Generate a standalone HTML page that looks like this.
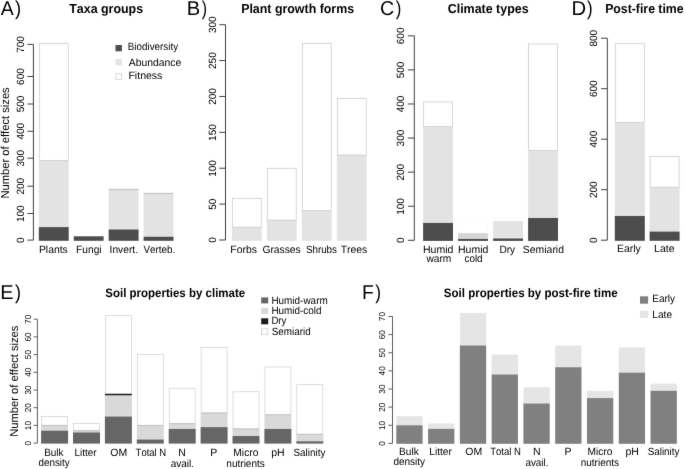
<!DOCTYPE html>
<html><head><meta charset="utf-8"><style>
html,body{margin:0;padding:0;background:#fff;width:685px;height:469px;overflow:hidden}
svg{display:block;will-change:transform}
text{font-family:"Liberation Sans", sans-serif;font-kerning:none;text-rendering:geometricPrecision}
</style></head><body>
<svg width="685" height="469" viewBox="0 0 685 469">
<defs><filter id="bl" x="0" y="0" width="685" height="469" filterUnits="userSpaceOnUse" color-interpolation-filters="sRGB"><feConvolveMatrix order="3" kernelMatrix="1 12 1 12 148 12 1 12 1" divisor="200" edgeMode="duplicate"/></filter></defs>
<g filter="url(#bl)">
<rect width="685" height="469" fill="#fff"/>
<text x="0.66" y="14.60" font-size="20"><tspan textLength="12.98" lengthAdjust="spacingAndGlyphs">A</tspan><tspan x="14.89" textLength="6.15" lengthAdjust="spacingAndGlyphs">)</tspan></text>
<text x="69.26" y="13.00" font-size="13" font-weight="bold" textLength="73.85" lengthAdjust="spacingAndGlyphs">Taxa groups</text>
<line x1="33.40" y1="44.40" x2="33.40" y2="240.10" stroke="#404040" stroke-width="1"/>
<line x1="27.40" y1="240.10" x2="33.40" y2="240.10" stroke="#404040" stroke-width="1"/>
<text x="23.90" y="242.88" font-size="10.5" transform="rotate(-90 23.90 242.88)" textLength="5.56" lengthAdjust="spacingAndGlyphs">0</text>
<line x1="27.40" y1="213.50" x2="33.40" y2="213.50" stroke="#404040" stroke-width="1"/>
<text x="23.90" y="222.03" font-size="10.5" transform="rotate(-90 23.90 222.03)" textLength="16.68" lengthAdjust="spacingAndGlyphs">100</text>
<line x1="27.40" y1="186.20" x2="33.40" y2="186.20" stroke="#404040" stroke-width="1"/>
<text x="23.90" y="194.60" font-size="10.5" transform="rotate(-90 23.90 194.60)" textLength="16.68" lengthAdjust="spacingAndGlyphs">200</text>
<line x1="27.40" y1="158.20" x2="33.40" y2="158.20" stroke="#404040" stroke-width="1"/>
<text x="23.90" y="166.54" font-size="10.5" transform="rotate(-90 23.90 166.54)" textLength="16.68" lengthAdjust="spacingAndGlyphs">300</text>
<line x1="27.40" y1="131.30" x2="33.40" y2="131.30" stroke="#404040" stroke-width="1"/>
<text x="23.90" y="139.56" font-size="10.5" transform="rotate(-90 23.90 139.56)" textLength="16.68" lengthAdjust="spacingAndGlyphs">400</text>
<line x1="27.40" y1="104.00" x2="33.40" y2="104.00" stroke="#404040" stroke-width="1"/>
<text x="23.90" y="112.35" font-size="10.5" transform="rotate(-90 23.90 112.35)" textLength="16.68" lengthAdjust="spacingAndGlyphs">500</text>
<line x1="27.40" y1="76.50" x2="33.40" y2="76.50" stroke="#404040" stroke-width="1"/>
<text x="23.90" y="84.90" font-size="10.5" transform="rotate(-90 23.90 84.90)" textLength="16.68" lengthAdjust="spacingAndGlyphs">600</text>
<line x1="27.40" y1="44.40" x2="33.40" y2="44.40" stroke="#404040" stroke-width="1"/>
<text x="23.90" y="52.80" font-size="10.5" transform="rotate(-90 23.90 52.80)" textLength="16.68" lengthAdjust="spacingAndGlyphs">700</text>
<text x="8.80" y="198.52" font-size="11.5" transform="rotate(-90 8.80 198.52)" textLength="111.22" lengthAdjust="spacingAndGlyphs">Number of effect sizes</text>
<rect x="38.80" y="160.40" width="29.90" height="67.00" fill="#e3e3e3"/>
<rect x="38.80" y="227.10" width="29.90" height="13.70" fill="#4d4d4d"/>
<rect x="39.30" y="43.70" width="28.90" height="116.70" fill="#fff" stroke="#c6c6c6" stroke-width="0.7"/>
<text x="38.95" y="252.50" font-size="10.5" textLength="28.83" lengthAdjust="spacingAndGlyphs">Plants</text>
<rect x="73.73" y="236.30" width="29.90" height="0.30" fill="#e3e3e3"/>
<rect x="73.73" y="236.30" width="29.90" height="4.50" fill="#4d4d4d"/>
<text x="76.06" y="252.50" font-size="10.5" textLength="25.52" lengthAdjust="spacingAndGlyphs">Fungi</text>
<rect x="108.66" y="190.30" width="29.90" height="39.50" fill="#e3e3e3"/>
<rect x="108.66" y="229.50" width="29.90" height="11.30" fill="#4d4d4d"/>
<rect x="108.66" y="188.80" width="29.90" height="1.60" fill="#c9c9c9"/>
<text x="109.55" y="252.50" font-size="10.5" textLength="28.48" lengthAdjust="spacingAndGlyphs">Invert.</text>
<rect x="143.59" y="194.30" width="29.90" height="42.80" fill="#e3e3e3"/>
<rect x="143.59" y="236.80" width="29.90" height="4.00" fill="#4d4d4d"/>
<rect x="143.59" y="192.80" width="29.90" height="1.60" fill="#c9c9c9"/>
<text x="143.56" y="252.50" font-size="10.5" textLength="31.74" lengthAdjust="spacingAndGlyphs">Verteb.</text>
<rect x="115.50" y="45.00" width="6.40" height="6.30" fill="#4d4d4d"/>
<text x="127.79" y="50.40" font-size="10.5" textLength="50.33" lengthAdjust="spacingAndGlyphs">Biodiversity</text>
<rect x="115.50" y="59.15" width="6.40" height="6.30" fill="#e3e3e3"/>
<text x="128.78" y="65.50" font-size="10.5" textLength="52.58" lengthAdjust="spacingAndGlyphs">Abundance</text>
<rect x="115.90" y="73.70" width="5.60" height="5.60" fill="#fff" stroke="#d2d2d2" stroke-width="0.8"/>
<text x="128.44" y="79.40" font-size="10.5" textLength="33.94" lengthAdjust="spacingAndGlyphs">Fitness</text>
<text x="186.85" y="14.60" font-size="20"><tspan textLength="13.41" lengthAdjust="spacingAndGlyphs">B</tspan><tspan x="201.71" textLength="5.28" lengthAdjust="spacingAndGlyphs">)</tspan></text>
<text x="241.17" y="13.00" font-size="13" font-weight="bold" textLength="112.94" lengthAdjust="spacingAndGlyphs">Plant growth forms</text>
<line x1="225.50" y1="24.69" x2="225.50" y2="240.00" stroke="#404040" stroke-width="1"/>
<line x1="219.30" y1="240.00" x2="225.50" y2="240.00" stroke="#404040" stroke-width="1"/>
<text x="215.60" y="242.78" font-size="10.5" transform="rotate(-90 215.60 242.78)" textLength="5.56" lengthAdjust="spacingAndGlyphs">0</text>
<line x1="219.30" y1="204.12" x2="225.50" y2="204.12" stroke="#404040" stroke-width="1"/>
<text x="215.60" y="209.68" font-size="10.5" transform="rotate(-90 215.60 209.68)" textLength="11.12" lengthAdjust="spacingAndGlyphs">50</text>
<line x1="219.30" y1="168.23" x2="225.50" y2="168.23" stroke="#404040" stroke-width="1"/>
<text x="215.60" y="176.76" font-size="10.5" transform="rotate(-90 215.60 176.76)" textLength="16.68" lengthAdjust="spacingAndGlyphs">100</text>
<line x1="219.30" y1="132.34" x2="225.50" y2="132.34" stroke="#404040" stroke-width="1"/>
<text x="215.60" y="140.87" font-size="10.5" transform="rotate(-90 215.60 140.87)" textLength="16.68" lengthAdjust="spacingAndGlyphs">150</text>
<line x1="219.30" y1="96.46" x2="225.50" y2="96.46" stroke="#404040" stroke-width="1"/>
<text x="215.60" y="104.86" font-size="10.5" transform="rotate(-90 215.60 104.86)" textLength="16.68" lengthAdjust="spacingAndGlyphs">200</text>
<line x1="219.30" y1="60.57" x2="225.50" y2="60.57" stroke="#404040" stroke-width="1"/>
<text x="215.60" y="68.97" font-size="10.5" transform="rotate(-90 215.60 68.97)" textLength="16.68" lengthAdjust="spacingAndGlyphs">250</text>
<line x1="219.30" y1="24.69" x2="225.50" y2="24.69" stroke="#404040" stroke-width="1"/>
<text x="215.60" y="33.03" font-size="10.5" transform="rotate(-90 215.60 33.03)" textLength="16.68" lengthAdjust="spacingAndGlyphs">300</text>
<rect x="231.80" y="227.08" width="29.90" height="13.72" fill="#e3e3e3"/>
<rect x="232.30" y="198.37" width="28.90" height="28.71" fill="#fff" stroke="#c6c6c6" stroke-width="0.7"/>
<text x="230.35" y="252.60" font-size="10.5" textLength="26.63" lengthAdjust="spacingAndGlyphs">Forbs</text>
<rect x="266.80" y="220.05" width="29.90" height="20.75" fill="#e3e3e3"/>
<rect x="267.30" y="168.23" width="28.90" height="51.82" fill="#fff" stroke="#c6c6c6" stroke-width="0.7"/>
<text x="262.38" y="252.60" font-size="10.5" textLength="38.39" lengthAdjust="spacingAndGlyphs">Grasses</text>
<rect x="301.80" y="210.57" width="29.90" height="30.23" fill="#e3e3e3"/>
<rect x="302.30" y="43.49" width="28.90" height="167.08" fill="#fff" stroke="#c6c6c6" stroke-width="0.7"/>
<text x="305.96" y="252.60" font-size="10.5" textLength="31.00" lengthAdjust="spacingAndGlyphs">Shrubs</text>
<rect x="336.80" y="155.02" width="29.90" height="85.78" fill="#e3e3e3"/>
<rect x="337.30" y="98.61" width="28.90" height="56.41" fill="#fff" stroke="#c6c6c6" stroke-width="0.7"/>
<text x="340.67" y="252.60" font-size="10.5" textLength="26.61" lengthAdjust="spacingAndGlyphs">Trees</text>
<text x="380.10" y="14.60" font-size="20"><tspan textLength="14.25" lengthAdjust="spacingAndGlyphs">C</tspan><tspan x="395.80" textLength="5.65" lengthAdjust="spacingAndGlyphs">)</tspan></text>
<text x="447.69" y="12.90" font-size="13" font-weight="bold" textLength="80.92" lengthAdjust="spacingAndGlyphs">Climate types</text>
<line x1="414.30" y1="35.82" x2="414.30" y2="240.30" stroke="#404040" stroke-width="1"/>
<line x1="407.90" y1="240.30" x2="414.30" y2="240.30" stroke="#404040" stroke-width="1"/>
<text x="404.20" y="243.08" font-size="10.5" transform="rotate(-90 404.20 243.08)" textLength="5.56" lengthAdjust="spacingAndGlyphs">0</text>
<line x1="407.90" y1="206.22" x2="414.30" y2="206.22" stroke="#404040" stroke-width="1"/>
<text x="404.20" y="214.75" font-size="10.5" transform="rotate(-90 404.20 214.75)" textLength="16.68" lengthAdjust="spacingAndGlyphs">100</text>
<line x1="407.90" y1="172.14" x2="414.30" y2="172.14" stroke="#404040" stroke-width="1"/>
<text x="404.20" y="180.54" font-size="10.5" transform="rotate(-90 404.20 180.54)" textLength="16.68" lengthAdjust="spacingAndGlyphs">200</text>
<line x1="407.90" y1="138.06" x2="414.30" y2="138.06" stroke="#404040" stroke-width="1"/>
<text x="404.20" y="146.40" font-size="10.5" transform="rotate(-90 404.20 146.40)" textLength="16.68" lengthAdjust="spacingAndGlyphs">300</text>
<line x1="407.90" y1="103.98" x2="414.30" y2="103.98" stroke="#404040" stroke-width="1"/>
<text x="404.20" y="112.24" font-size="10.5" transform="rotate(-90 404.20 112.24)" textLength="16.68" lengthAdjust="spacingAndGlyphs">400</text>
<line x1="407.90" y1="69.90" x2="414.30" y2="69.90" stroke="#404040" stroke-width="1"/>
<text x="404.20" y="78.25" font-size="10.5" transform="rotate(-90 404.20 78.25)" textLength="16.68" lengthAdjust="spacingAndGlyphs">500</text>
<line x1="407.90" y1="35.82" x2="414.30" y2="35.82" stroke="#404040" stroke-width="1"/>
<text x="404.20" y="44.22" font-size="10.5" transform="rotate(-90 404.20 44.22)" textLength="16.68" lengthAdjust="spacingAndGlyphs">600</text>
<rect x="423.10" y="126.61" width="29.90" height="96.61" fill="#e3e3e3"/>
<rect x="423.10" y="222.92" width="29.90" height="17.98" fill="#4d4d4d"/>
<rect x="423.60" y="101.94" width="28.90" height="24.67" fill="#fff" stroke="#c6c6c6" stroke-width="0.7"/>
<text x="422.94" y="252.60" font-size="10.5" textLength="30.44" lengthAdjust="spacingAndGlyphs">Humid</text>
<text x="426.41" y="262.10" font-size="10.5" textLength="24.96" lengthAdjust="spacingAndGlyphs">warm</text>
<rect x="458.10" y="232.80" width="29.90" height="6.43" fill="#d6d6d6"/>
<rect x="458.10" y="238.94" width="29.90" height="1.96" fill="#4d4d4d"/>
<rect x="458.60" y="219.51" width="28.90" height="13.29" fill="#fff" stroke="#fbfbfb" stroke-width="0.7"/>
<text x="458.04" y="252.60" font-size="10.5" textLength="30.34" lengthAdjust="spacingAndGlyphs">Humid</text>
<text x="464.48" y="262.10" font-size="10.5" textLength="18.16" lengthAdjust="spacingAndGlyphs">cold</text>
<rect x="493.10" y="221.04" width="29.90" height="17.51" fill="#e3e3e3"/>
<rect x="493.10" y="238.26" width="29.90" height="2.64" fill="#4d4d4d"/>
<rect x="493.10" y="237.66" width="29.90" height="0.60" fill="#f4f4f4"/>
<text x="499.47" y="252.60" font-size="10.5" textLength="15.64" lengthAdjust="spacingAndGlyphs">Dry</text>
<rect x="528.10" y="150.33" width="29.90" height="67.95" fill="#e3e3e3"/>
<rect x="528.10" y="217.98" width="29.90" height="22.92" fill="#4d4d4d"/>
<rect x="528.60" y="44.00" width="28.90" height="106.33" fill="#fff" stroke="#c6c6c6" stroke-width="0.7"/>
<text x="522.83" y="252.60" font-size="10.5" textLength="41.15" lengthAdjust="spacingAndGlyphs">Semiarid</text>
<text x="571.44" y="14.80" font-size="20"><tspan textLength="14.63" lengthAdjust="spacingAndGlyphs">D</tspan><tspan x="587.10" textLength="5.65" lengthAdjust="spacingAndGlyphs">)</tspan></text>
<text x="605.18" y="13.20" font-size="13" font-weight="bold" textLength="78.44" lengthAdjust="spacingAndGlyphs">Post-fire time</text>
<line x1="607.30" y1="38.20" x2="607.30" y2="240.20" stroke="#404040" stroke-width="1"/>
<line x1="601.00" y1="240.20" x2="607.30" y2="240.20" stroke="#404040" stroke-width="1"/>
<text x="597.20" y="242.98" font-size="10.5" transform="rotate(-90 597.20 242.98)" textLength="5.56" lengthAdjust="spacingAndGlyphs">0</text>
<line x1="601.00" y1="189.70" x2="607.30" y2="189.70" stroke="#404040" stroke-width="1"/>
<text x="597.20" y="198.10" font-size="10.5" transform="rotate(-90 597.20 198.10)" textLength="16.68" lengthAdjust="spacingAndGlyphs">200</text>
<line x1="601.00" y1="139.20" x2="607.30" y2="139.20" stroke="#404040" stroke-width="1"/>
<text x="597.20" y="147.46" font-size="10.5" transform="rotate(-90 597.20 147.46)" textLength="16.68" lengthAdjust="spacingAndGlyphs">400</text>
<line x1="601.00" y1="88.70" x2="607.30" y2="88.70" stroke="#404040" stroke-width="1"/>
<text x="597.20" y="97.10" font-size="10.5" transform="rotate(-90 597.20 97.10)" textLength="16.68" lengthAdjust="spacingAndGlyphs">600</text>
<line x1="601.00" y1="38.20" x2="607.30" y2="38.20" stroke="#404040" stroke-width="1"/>
<text x="597.20" y="46.56" font-size="10.5" transform="rotate(-90 597.20 46.56)" textLength="16.68" lengthAdjust="spacingAndGlyphs">800</text>
<rect x="614.80" y="122.28" width="30.00" height="93.98" fill="#e3e3e3"/>
<rect x="614.80" y="215.96" width="30.00" height="24.84" fill="#4d4d4d"/>
<rect x="615.30" y="43.75" width="29.00" height="78.53" fill="#fff" stroke="#c6c6c6" stroke-width="0.7"/>
<text x="617.04" y="251.90" font-size="10.5" textLength="23.78" lengthAdjust="spacingAndGlyphs">Early</text>
<rect x="649.60" y="187.17" width="30.00" height="44.74" fill="#e3e3e3"/>
<rect x="649.60" y="231.61" width="30.00" height="9.19" fill="#4d4d4d"/>
<rect x="650.10" y="156.37" width="29.00" height="30.80" fill="#fff" stroke="#c6c6c6" stroke-width="0.7"/>
<text x="654.03" y="251.90" font-size="10.5" textLength="20.53" lengthAdjust="spacingAndGlyphs">Late</text>
<text x="0.37" y="298.60" font-size="20"><tspan textLength="13.23" lengthAdjust="spacingAndGlyphs">E</tspan><tspan x="14.89" textLength="6.03" lengthAdjust="spacingAndGlyphs">)</tspan></text>
<text x="105.27" y="296.60" font-size="12.3" font-weight="bold" textLength="139.92" lengthAdjust="spacingAndGlyphs">Soil properties by climate</text>
<line x1="37.40" y1="319.20" x2="37.40" y2="443.10" stroke="#5e5e5e" stroke-width="1"/>
<line x1="33.60" y1="443.10" x2="37.40" y2="443.10" stroke="#5e5e5e" stroke-width="1"/>
<text x="31.40" y="445.41" font-size="8.715000000000002" transform="rotate(-90 31.40 445.41)" textLength="4.62" lengthAdjust="spacingAndGlyphs">0</text>
<line x1="33.60" y1="425.40" x2="37.40" y2="425.40" stroke="#5e5e5e" stroke-width="1"/>
<text x="31.40" y="430.17" font-size="8.715000000000002" transform="rotate(-90 31.40 430.17)" textLength="9.23" lengthAdjust="spacingAndGlyphs">10</text>
<line x1="33.60" y1="407.70" x2="37.40" y2="407.70" stroke="#5e5e5e" stroke-width="1"/>
<text x="31.40" y="412.36" font-size="8.715000000000002" transform="rotate(-90 31.40 412.36)" textLength="9.23" lengthAdjust="spacingAndGlyphs">20</text>
<line x1="33.60" y1="390.00" x2="37.40" y2="390.00" stroke="#5e5e5e" stroke-width="1"/>
<text x="31.40" y="394.61" font-size="8.715000000000002" transform="rotate(-90 31.40 394.61)" textLength="9.23" lengthAdjust="spacingAndGlyphs">30</text>
<line x1="33.60" y1="372.30" x2="37.40" y2="372.30" stroke="#5e5e5e" stroke-width="1"/>
<text x="31.40" y="376.85" font-size="8.715000000000002" transform="rotate(-90 31.40 376.85)" textLength="9.23" lengthAdjust="spacingAndGlyphs">40</text>
<line x1="33.60" y1="354.60" x2="37.40" y2="354.60" stroke="#5e5e5e" stroke-width="1"/>
<text x="31.40" y="359.22" font-size="8.715000000000002" transform="rotate(-90 31.40 359.22)" textLength="9.23" lengthAdjust="spacingAndGlyphs">50</text>
<line x1="33.60" y1="336.90" x2="37.40" y2="336.90" stroke="#5e5e5e" stroke-width="1"/>
<text x="31.40" y="341.56" font-size="8.715000000000002" transform="rotate(-90 31.40 341.56)" textLength="9.23" lengthAdjust="spacingAndGlyphs">60</text>
<line x1="33.60" y1="319.20" x2="37.40" y2="319.20" stroke="#5e5e5e" stroke-width="1"/>
<text x="31.40" y="323.87" font-size="8.715000000000002" transform="rotate(-90 31.40 323.87)" textLength="9.23" lengthAdjust="spacingAndGlyphs">70</text>
<text x="18.00" y="436.82" font-size="11.5" transform="rotate(-90 18.00 436.82)" textLength="111.22" lengthAdjust="spacingAndGlyphs">Number of effect sizes</text>
<rect x="41.10" y="425.40" width="27.00" height="5.61" fill="#d9d9d9"/>
<rect x="41.10" y="430.71" width="27.00" height="12.89" fill="#666666"/>
<rect x="41.60" y="416.55" width="26.00" height="8.85" fill="#fff" stroke="#cfcfcf" stroke-width="0.7"/>
<line x1="41.60" y1="425.40" x2="67.60" y2="425.40" stroke="#bdbdbd" stroke-width="0.8"/>
<text x="44.18" y="456.00" font-size="10.5" textLength="19.40" lengthAdjust="spacingAndGlyphs">Bulk</text>
<text x="38.49" y="466.00" font-size="10.5" textLength="31.23" lengthAdjust="spacingAndGlyphs">density</text>
<rect x="73.00" y="430.71" width="27.00" height="2.07" fill="#d9d9d9"/>
<rect x="73.00" y="432.48" width="27.00" height="11.12" fill="#666666"/>
<rect x="73.50" y="423.63" width="26.00" height="7.08" fill="#fff" stroke="#cfcfcf" stroke-width="0.7"/>
<line x1="73.50" y1="430.71" x2="99.50" y2="430.71" stroke="#bdbdbd" stroke-width="0.8"/>
<text x="74.49" y="456.00" font-size="10.5" textLength="21.97" lengthAdjust="spacingAndGlyphs">Litter</text>
<rect x="104.90" y="395.31" width="27.00" height="21.54" fill="#d9d9d9"/>
<rect x="104.90" y="393.54" width="27.00" height="1.77" fill="#1c1c1c"/>
<rect x="104.90" y="416.55" width="27.00" height="27.05" fill="#666666"/>
<rect x="105.40" y="315.66" width="26.00" height="77.88" fill="#fff" stroke="#cfcfcf" stroke-width="0.7"/>
<line x1="105.40" y1="393.54" x2="131.40" y2="393.54" stroke="#bdbdbd" stroke-width="0.8"/>
<text x="110.33" y="456.00" font-size="10.5" textLength="16.91" lengthAdjust="spacingAndGlyphs">OM</text>
<rect x="136.80" y="425.40" width="27.00" height="14.46" fill="#d9d9d9"/>
<rect x="136.80" y="439.56" width="27.00" height="4.04" fill="#666666"/>
<rect x="137.30" y="354.60" width="26.00" height="70.80" fill="#fff" stroke="#cfcfcf" stroke-width="0.7"/>
<line x1="137.30" y1="425.40" x2="163.30" y2="425.40" stroke="#bdbdbd" stroke-width="0.8"/>
<text x="135.59" y="456.00" font-size="10.5" textLength="30.59" lengthAdjust="spacingAndGlyphs">Total N</text>
<rect x="168.70" y="423.63" width="27.00" height="5.61" fill="#d9d9d9"/>
<rect x="168.70" y="428.94" width="27.00" height="14.66" fill="#666666"/>
<rect x="169.20" y="388.23" width="26.00" height="35.40" fill="#fff" stroke="#cfcfcf" stroke-width="0.7"/>
<line x1="169.20" y1="423.63" x2="195.20" y2="423.63" stroke="#bdbdbd" stroke-width="0.8"/>
<text x="178.31" y="456.00" font-size="10.5" textLength="7.58" lengthAdjust="spacingAndGlyphs">N</text>
<text x="170.68" y="467.00" font-size="10.5" textLength="23.34" lengthAdjust="spacingAndGlyphs">avail.</text>
<rect x="200.60" y="413.01" width="27.00" height="14.46" fill="#d9d9d9"/>
<rect x="200.60" y="427.17" width="27.00" height="16.43" fill="#666666"/>
<rect x="201.10" y="347.52" width="26.00" height="65.49" fill="#fff" stroke="#cfcfcf" stroke-width="0.7"/>
<line x1="201.10" y1="413.01" x2="227.10" y2="413.01" stroke="#bdbdbd" stroke-width="0.8"/>
<text x="210.14" y="456.00" font-size="10.5" textLength="7.00" lengthAdjust="spacingAndGlyphs">P</text>
<rect x="232.50" y="428.94" width="27.00" height="7.38" fill="#d9d9d9"/>
<rect x="232.50" y="436.02" width="27.00" height="7.58" fill="#666666"/>
<rect x="233.00" y="391.77" width="26.00" height="37.17" fill="#fff" stroke="#cfcfcf" stroke-width="0.7"/>
<line x1="233.00" y1="428.94" x2="259.00" y2="428.94" stroke="#bdbdbd" stroke-width="0.8"/>
<text x="233.36" y="456.00" font-size="10.5" textLength="24.97" lengthAdjust="spacingAndGlyphs">Micro</text>
<text x="226.33" y="467.00" font-size="10.5" textLength="38.53" lengthAdjust="spacingAndGlyphs">nutrients</text>
<rect x="264.40" y="414.78" width="27.00" height="14.46" fill="#d9d9d9"/>
<rect x="264.40" y="428.94" width="27.00" height="14.66" fill="#666666"/>
<rect x="264.90" y="366.99" width="26.00" height="47.79" fill="#fff" stroke="#cfcfcf" stroke-width="0.7"/>
<line x1="264.90" y1="414.78" x2="290.90" y2="414.78" stroke="#bdbdbd" stroke-width="0.8"/>
<text x="271.18" y="456.00" font-size="10.5" textLength="13.42" lengthAdjust="spacingAndGlyphs">pH</text>
<rect x="296.30" y="434.25" width="27.00" height="7.38" fill="#d9d9d9"/>
<rect x="296.30" y="441.33" width="27.00" height="2.27" fill="#666666"/>
<rect x="296.80" y="384.69" width="26.00" height="49.56" fill="#fff" stroke="#cfcfcf" stroke-width="0.7"/>
<line x1="296.80" y1="434.25" x2="322.80" y2="434.25" stroke="#bdbdbd" stroke-width="0.8"/>
<text x="293.55" y="456.00" font-size="10.5" textLength="31.77" lengthAdjust="spacingAndGlyphs">Salinity</text>
<rect x="261.20" y="297.40" width="7.00" height="6.00" fill="#666666"/>
<text x="271.38" y="303.50" font-size="10.5" textLength="56.37" lengthAdjust="spacingAndGlyphs">Humid-warm</text>
<rect x="261.20" y="307.85" width="7.00" height="6.00" fill="#d9d9d9"/>
<text x="271.39" y="313.95" font-size="10.5" textLength="50.15" lengthAdjust="spacingAndGlyphs">Humid-cold</text>
<rect x="261.20" y="318.30" width="7.00" height="6.00" fill="#1c1c1c"/>
<text x="271.41" y="324.40" font-size="10.5" textLength="15.01" lengthAdjust="spacingAndGlyphs">Dry</text>
<rect x="261.60" y="328.85" width="6.20" height="5.80" fill="#fff" stroke="#cfcfcf" stroke-width="0.8"/>
<text x="271.75" y="334.85" font-size="10.5" textLength="38.88" lengthAdjust="spacingAndGlyphs">Semiarid</text>
<text x="361.92" y="298.50" font-size="20"><tspan textLength="11.75" lengthAdjust="spacingAndGlyphs">F</tspan><tspan x="375.20" textLength="5.78" lengthAdjust="spacingAndGlyphs">)</tspan></text>
<text x="443.77" y="296.60" font-size="12.3" font-weight="bold" textLength="173.83" lengthAdjust="spacingAndGlyphs">Soil properties by post-fire time</text>
<line x1="392.50" y1="316.49" x2="392.50" y2="443.40" stroke="#5e5e5e" stroke-width="1"/>
<line x1="388.40" y1="443.40" x2="392.50" y2="443.40" stroke="#5e5e5e" stroke-width="1"/>
<text x="385.20" y="445.71" font-size="8.715000000000002" transform="rotate(-90 385.20 445.71)" textLength="4.62" lengthAdjust="spacingAndGlyphs">0</text>
<line x1="388.40" y1="425.27" x2="392.50" y2="425.27" stroke="#5e5e5e" stroke-width="1"/>
<text x="385.20" y="430.04" font-size="8.715000000000002" transform="rotate(-90 385.20 430.04)" textLength="9.23" lengthAdjust="spacingAndGlyphs">10</text>
<line x1="388.40" y1="407.14" x2="392.50" y2="407.14" stroke="#5e5e5e" stroke-width="1"/>
<text x="385.20" y="411.80" font-size="8.715000000000002" transform="rotate(-90 385.20 411.80)" textLength="9.23" lengthAdjust="spacingAndGlyphs">20</text>
<line x1="388.40" y1="389.01" x2="392.50" y2="389.01" stroke="#5e5e5e" stroke-width="1"/>
<text x="385.20" y="393.62" font-size="8.715000000000002" transform="rotate(-90 385.20 393.62)" textLength="9.23" lengthAdjust="spacingAndGlyphs">30</text>
<line x1="388.40" y1="370.88" x2="392.50" y2="370.88" stroke="#5e5e5e" stroke-width="1"/>
<text x="385.20" y="375.43" font-size="8.715000000000002" transform="rotate(-90 385.20 375.43)" textLength="9.23" lengthAdjust="spacingAndGlyphs">40</text>
<line x1="388.40" y1="352.75" x2="392.50" y2="352.75" stroke="#5e5e5e" stroke-width="1"/>
<text x="385.20" y="357.37" font-size="8.715000000000002" transform="rotate(-90 385.20 357.37)" textLength="9.23" lengthAdjust="spacingAndGlyphs">50</text>
<line x1="388.40" y1="334.62" x2="392.50" y2="334.62" stroke="#5e5e5e" stroke-width="1"/>
<text x="385.20" y="339.28" font-size="8.715000000000002" transform="rotate(-90 385.20 339.28)" textLength="9.23" lengthAdjust="spacingAndGlyphs">60</text>
<line x1="388.40" y1="316.49" x2="392.50" y2="316.49" stroke="#5e5e5e" stroke-width="1"/>
<text x="385.20" y="321.16" font-size="8.715000000000002" transform="rotate(-90 385.20 321.16)" textLength="9.23" lengthAdjust="spacingAndGlyphs">70</text>
<rect x="396.30" y="416.20" width="26.30" height="9.37" fill="#e5e5e5"/>
<rect x="396.30" y="425.27" width="26.30" height="18.53" fill="#808080"/>
<text x="399.07" y="455.00" font-size="10.5" textLength="19.72" lengthAdjust="spacingAndGlyphs">Bulk</text>
<text x="393.38" y="465.00" font-size="10.5" textLength="31.74" lengthAdjust="spacingAndGlyphs">density</text>
<rect x="428.08" y="423.46" width="26.30" height="5.74" fill="#e5e5e5"/>
<rect x="428.08" y="428.90" width="26.30" height="14.90" fill="#808080"/>
<text x="429.37" y="455.00" font-size="10.5" textLength="22.50" lengthAdjust="spacingAndGlyphs">Litter</text>
<rect x="459.86" y="312.86" width="26.30" height="32.93" fill="#e5e5e5"/>
<rect x="459.86" y="345.50" width="26.30" height="98.30" fill="#808080"/>
<text x="465.23" y="455.00" font-size="10.5" textLength="16.91" lengthAdjust="spacingAndGlyphs">OM</text>
<rect x="491.64" y="354.56" width="26.30" height="20.24" fill="#e5e5e5"/>
<rect x="491.64" y="374.51" width="26.30" height="69.29" fill="#808080"/>
<text x="490.19" y="455.00" font-size="10.5" textLength="30.69" lengthAdjust="spacingAndGlyphs">Total N</text>
<rect x="523.42" y="387.20" width="26.30" height="16.62" fill="#e5e5e5"/>
<rect x="523.42" y="403.51" width="26.30" height="40.29" fill="#808080"/>
<text x="532.91" y="455.00" font-size="10.5" textLength="7.58" lengthAdjust="spacingAndGlyphs">N</text>
<text x="525.38" y="466.00" font-size="10.5" textLength="23.13" lengthAdjust="spacingAndGlyphs">avail.</text>
<rect x="555.20" y="345.50" width="26.30" height="22.06" fill="#e5e5e5"/>
<rect x="555.20" y="367.25" width="26.30" height="76.55" fill="#808080"/>
<text x="564.59" y="455.00" font-size="10.5" textLength="7.00" lengthAdjust="spacingAndGlyphs">P</text>
<rect x="586.98" y="390.82" width="26.30" height="7.55" fill="#e5e5e5"/>
<rect x="586.98" y="398.07" width="26.30" height="45.72" fill="#808080"/>
<text x="587.46" y="455.00" font-size="10.5" textLength="24.97" lengthAdjust="spacingAndGlyphs">Micro</text>
<text x="580.74" y="466.00" font-size="10.5" textLength="38.32" lengthAdjust="spacingAndGlyphs">nutrients</text>
<rect x="618.76" y="347.31" width="26.30" height="25.68" fill="#e5e5e5"/>
<rect x="618.76" y="372.69" width="26.30" height="71.11" fill="#808080"/>
<text x="625.43" y="455.00" font-size="10.5" textLength="13.42" lengthAdjust="spacingAndGlyphs">pH</text>
<rect x="650.54" y="383.57" width="26.30" height="7.55" fill="#e5e5e5"/>
<rect x="650.54" y="390.82" width="26.30" height="52.98" fill="#808080"/>
<text x="647.65" y="455.00" font-size="10.5" textLength="31.77" lengthAdjust="spacingAndGlyphs">Salinity</text>
<rect x="640.00" y="296.30" width="8.10" height="7.40" fill="#808080"/>
<rect x="640.00" y="310.90" width="8.10" height="7.00" fill="#e5e5e5"/>
<text x="652.28" y="302.00" font-size="10.5" textLength="22.84" lengthAdjust="spacingAndGlyphs">Early</text>
<text x="652.37" y="317.60" font-size="10.5" textLength="19.68" lengthAdjust="spacingAndGlyphs">Late</text>
</g>
</svg>
</body></html>
